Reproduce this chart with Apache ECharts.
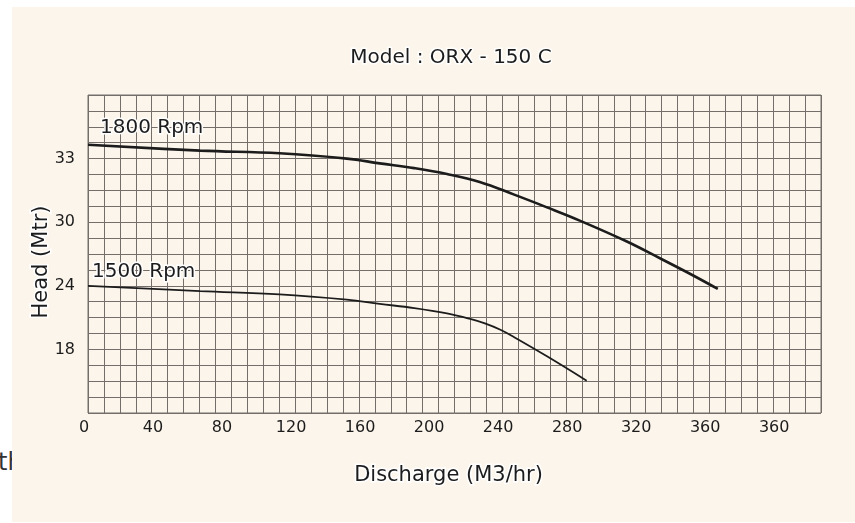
<!DOCTYPE html>
<html>
<head>
<meta charset="utf-8">
<script src="https://cdn.jsdelivr.net/npm/echarts@6/dist/echarts.min.js"></script>
<style>
  html, body { margin: 0; padding: 0; background: #ffffff; width: 855px; height: 523px; overflow: hidden; }
  #th { position: absolute; left: -2px; top: 448px; font: 24px 'DejaVu Sans', sans-serif; color: #333; }
  #panel { position: absolute; left: 12px; top: 7px; width: 843px; height: 515px; background: #fcf5eb; }
  #chart { position: absolute; left: 0; top: 0; width: 855px; height: 523px; }
</style>
</head>
<body>
<div id="th">th</div>
<div id="panel"></div>
<div id="chart"></div>
<script>
// ---- data ----
const chartTitle = 'Model : ORX - 150 C';
const xName = 'Discharge (M3/hr)';
const yName = 'Head (Mtr)';

const xTickValues = [0, 40, 80, 120, 160, 200, 240, 280, 320, 360, 400];
const xTickLabels = ['0', '40', '80', '120', '160', '200', '240', '280', '320', '360', '360'];
const yTickValues = [18, 24, 30, 36];
const yTickLabels = ['18', '24', '30', '33'];

const rpm1800Name = '1800 Rpm';
const rpm1800Q = [0, 65, 111, 150, 169, 189, 208, 227, 247, 266, 285, 312, 332, 351, 365];
const rpm1800H = [37.3, 36.75, 36.5, 36.0, 35.55, 35.1, 34.55, 33.8, 32.6, 31.4, 30.15, 28.2, 26.55, 24.95, 23.7];

const rpm1500Name = '1500 Rpm';
const rpm1500Q = [0, 65, 111, 150, 169, 189, 208, 221, 230, 239, 247, 266, 289];
const rpm1500H = [24.0, 23.5, 23.2, 22.7, 22.3, 21.9, 21.4, 20.9, 20.45, 19.85, 19.15, 17.35, 15.05];

// ---- chart ----
const FONT = 'DejaVu Sans';
const INK = '#1c1c1c';
const GRIDC = '#736e69';

function pairs(q, h) { return q.map((v, i) => [v, h[i]]); }

const chart = echarts.init(document.getElementById('chart'), null, { renderer: 'canvas' });

function rpmSeries(name, q, h, width, labelOffset) {
  return {
    name: name,
    type: 'line',
    xAxisIndex: 0,
    yAxisIndex: 0,
    data: pairs(q, h),
    showSymbol: false,
    smooth: 0.4,
    lineStyle: { color: INK, width: width },
    z: 3,
    markPoint: {
      symbol: 'circle',
      symbolSize: 0,
      silent: true,
      data: [{ coord: [q[0], h[0]] }],
      label: {
        show: true,
        position: 'right',
        offset: labelOffset,
        formatter: name,
        fontFamily: FONT,
        fontSize: 20,
        color: INK,
        textBorderColor: '#ffffff',
        textBorderWidth: 3
      }
    }
  };
}

const option = {
  animation: false,
  title: {
    text: chartTitle,
    left: 446,
    top: 43,
    textAlign: 'center',
    textStyle: {
      fontFamily: FONT, fontSize: 20, fontWeight: 'normal', color: INK,
      textBorderColor: '#ffffff', textBorderWidth: 3
    }
  },
  grid: {
    left: 88, top: 95, width: 733, height: 318,
    show: true, borderColor: GRIDC, borderWidth: 1, backgroundColor: 'transparent'
  },
  xAxis: [
    {
      type: 'value',
      min: 0, max: 424.8, interval: 40,
      name: xName,
      nameLocation: 'middle',
      nameGap: 52,
      nameMoveOverlap: false,
      nameTextStyle: {
        fontFamily: FONT, fontSize: 21, color: INK, padding: [0, 12, 0, 0],
        textBorderColor: '#ffffff', textBorderWidth: 3
      },
      axisLine: { show: false },
      axisTick: { show: false },
      splitLine: { show: false },
      axisLabel: {
        show: true, margin: 7, showMaxLabel: false,
        fontFamily: FONT, fontSize: 16, color: INK,
        padding: [0, 8, 0, 0],
        formatter: function (v) {
          const i = xTickValues.indexOf(Math.round(v));
          return (i >= 0 && Math.abs(v - xTickValues[i]) < 1e-6) ? xTickLabels[i] : '';
        }
      }
    },
    {
      type: 'value',
      min: 0, max: 46, interval: 1,
      axisLine: { show: false },
      axisTick: { show: false },
      axisLabel: { show: false },
      splitLine: { show: true, lineStyle: { color: GRIDC, width: 1 } }
    }
  ],
  yAxis: [
    {
      type: 'value',
      min: 12, max: 42, interval: 1.5,
      name: yName,
      nameLocation: 'middle',
      nameGap: 36,
      nameMoveOverlap: false,
      nameTextStyle: {
        fontFamily: FONT, fontSize: 21, color: INK, padding: [0, 16, 0, 0],
        textBorderColor: '#ffffff', textBorderWidth: 3
      },
      axisLine: { show: false },
      axisTick: { show: false },
      splitLine: { show: true, lineStyle: { color: GRIDC, width: 1 } },
      axisLabel: {
        show: true, margin: 13,
        fontFamily: FONT, fontSize: 16, color: INK,
        padding: [6, 0, 0, 0],
        formatter: function (v) {
          for (let i = 0; i < yTickValues.length; i++) {
            if (Math.abs(v - yTickValues[i]) < 1e-6) return yTickLabels[i];
          }
          return '';
        }
      }
    }
  ],
  series: [
    rpmSeries(rpm1800Name, rpm1800Q, rpm1800H, 2.6, [7, -17]),
    rpmSeries(rpm1500Name, rpm1500Q, rpm1500H, 1.8, [-1, -14])
  ]
};

chart.setOption(option);
</script>
</body>
</html>
